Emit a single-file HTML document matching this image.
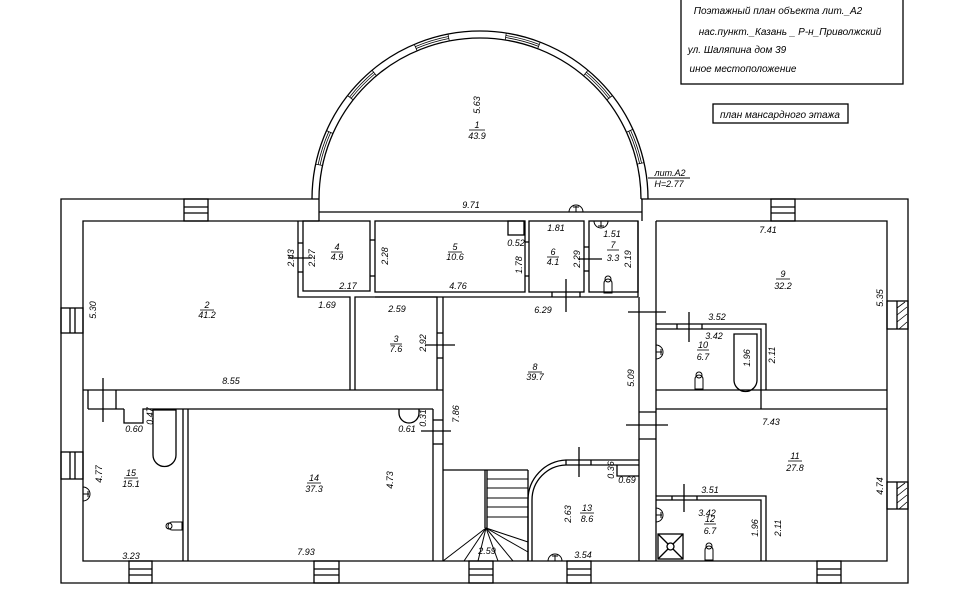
<!DOCTYPE html>
<html><head><meta charset="utf-8"><style>
body{margin:0;background:#fff}
svg{display:block}
text{font-family:"Liberation Sans","DejaVu Sans",sans-serif;font-style:italic;font-size:9px;fill:#000}
.t{font-size:10px}
</style></head><body>
<svg width="971" height="596" viewBox="0 0 971 596" xmlns="http://www.w3.org/2000/svg">
<g fill="none" stroke="#000" stroke-width="1.3">
<rect x="681" y="-2" width="222" height="86"/>
<rect x="713" y="104" width="135" height="19"/>
<path d="M312 199 A168 168 0 0 1 648 199"/>
<path d="M319 199 A161 161 0 0 1 641 199"/>
<line x1="312" y1="199" x2="319" y2="199"/>
<line x1="641" y1="199" x2="648" y2="199"/>
<line x1="319" y1="212" x2="642" y2="212"/>
<line x1="319" y1="199" x2="319" y2="221"/>
<line x1="642" y1="199" x2="642" y2="221"/>
<polyline points="312,199 61,199 61,583 908,583 908,199 648,199"/>
<polyline points="319,221 83,221 83,561 887,561 887,221 656,221"/>
<rect x="184" y="199" width="24" height="22"/><line x1="184" y1="207" x2="208" y2="207"/><line x1="184" y1="213" x2="208" y2="213"/>
<rect x="771" y="199" width="24" height="22"/><line x1="771" y1="207" x2="795" y2="207"/><line x1="771" y1="213" x2="795" y2="213"/>
<rect x="61" y="308" width="22" height="25"/><line x1="70" y1="308" x2="70" y2="333"/><line x1="75" y1="308" x2="75" y2="333"/>
<rect x="61" y="452" width="22" height="27"/><line x1="70" y1="452" x2="70" y2="479"/><line x1="75" y1="452" x2="75" y2="479"/>
<rect x="129" y="561" width="23" height="22"/><line x1="129" y1="569" x2="152" y2="569"/><line x1="129" y1="575" x2="152" y2="575"/>
<rect x="314" y="561" width="25" height="22"/><line x1="314" y1="569" x2="339" y2="569"/><line x1="314" y1="575" x2="339" y2="575"/>
<rect x="469" y="561" width="24" height="22"/><line x1="469" y1="569" x2="493" y2="569"/><line x1="469" y1="575" x2="493" y2="575"/>
<rect x="567" y="561" width="24" height="22"/><line x1="567" y1="569" x2="591" y2="569"/><line x1="567" y1="575" x2="591" y2="575"/>
<rect x="817" y="561" width="24" height="22"/><line x1="817" y1="569" x2="841" y2="569"/><line x1="817" y1="575" x2="841" y2="575"/>
<rect x="887" y="301" width="21" height="28"/><line x1="897" y1="301" x2="897" y2="329"/>
<rect x="887" y="482" width="21" height="27"/><line x1="897" y1="482" x2="897" y2="509"/>
<g stroke-width="0.8"><line x1="897" y1="308" x2="905" y2="302"/><line x1="897" y1="315" x2="907" y2="307"/><line x1="897" y1="322" x2="907" y2="314"/><line x1="899" y1="329" x2="907" y2="322"/>
<line x1="897" y1="489" x2="905" y2="483"/><line x1="897" y1="496" x2="907" y2="488"/><line x1="897" y1="503" x2="907" y2="495"/><line x1="899" y1="509" x2="907" y2="502"/></g>
<!-- arc windows -->
<g stroke-width="0.8">
<g transform="rotate(-162 480 199)"><line x1="640.1" y1="182.2" x2="647.1" y2="181.4"/><line x1="640.1" y1="215.8" x2="647.1" y2="216.6"/><path d="M642.6 181.9 A163.5 163.5 0 0 1 642.6 216.1 M644.6 181.7 A165.5 165.5 0 0 1 644.6 216.3"/></g>
<g transform="rotate(-136 480 199)"><line x1="640.1" y1="182.2" x2="647.1" y2="181.4"/><line x1="640.1" y1="215.8" x2="647.1" y2="216.6"/><path d="M642.6 181.9 A163.5 163.5 0 0 1 642.6 216.1 M644.6 181.7 A165.5 165.5 0 0 1 644.6 216.3"/></g>
<g transform="rotate(-107 480 199)"><line x1="640.1" y1="182.2" x2="647.1" y2="181.4"/><line x1="640.1" y1="215.8" x2="647.1" y2="216.6"/><path d="M642.6 181.9 A163.5 163.5 0 0 1 642.6 216.1 M644.6 181.7 A165.5 165.5 0 0 1 644.6 216.3"/></g>
<g transform="rotate(-75 480 199)"><line x1="640.1" y1="182.2" x2="647.1" y2="181.4"/><line x1="640.1" y1="215.8" x2="647.1" y2="216.6"/><path d="M642.6 181.9 A163.5 163.5 0 0 1 642.6 216.1 M644.6 181.7 A165.5 165.5 0 0 1 644.6 216.3"/></g>
<g transform="rotate(-44 480 199)"><line x1="640.1" y1="182.2" x2="647.1" y2="181.4"/><line x1="640.1" y1="215.8" x2="647.1" y2="216.6"/><path d="M642.6 181.9 A163.5 163.5 0 0 1 642.6 216.1 M644.6 181.7 A165.5 165.5 0 0 1 644.6 216.3"/></g>
<g transform="rotate(-18.5 480 199)"><line x1="640.1" y1="182.2" x2="647.1" y2="181.4"/><line x1="640.1" y1="215.8" x2="647.1" y2="216.6"/><path d="M642.6 181.9 A163.5 163.5 0 0 1 642.6 216.1 M644.6 181.7 A165.5 165.5 0 0 1 644.6 216.3"/></g>
</g>
<line x1="83" y1="390" x2="443" y2="390"/>
<line x1="88" y1="409" x2="124" y2="409"/>
<polyline points="124,409 124,423 143,423 143,409 433,409"/>
<line x1="88" y1="390" x2="88" y2="409"/><line x1="116" y1="390" x2="116" y2="409"/><line x1="103" y1="378" x2="103" y2="422"/>
<polyline points="298,221 298,297 350,297 350,390"/>
<rect x="303" y="221" width="67" height="70"/>
<line x1="298" y1="243" x2="303" y2="243"/><line x1="298" y1="272" x2="303" y2="272"/><line x1="288" y1="258" x2="312" y2="258"/>
<line x1="370" y1="240" x2="375" y2="240"/><line x1="370" y1="276" x2="375" y2="276"/>
<rect x="375" y="221" width="150" height="71"/>
<rect x="508" y="221" width="16" height="14"/>
<rect x="529" y="221" width="55" height="71"/>
<line x1="525" y1="242" x2="529" y2="242"/><line x1="525" y1="276" x2="529" y2="276"/>
<rect x="589" y="221" width="49" height="71"/>
<line x1="584" y1="247" x2="589" y2="247"/><line x1="584" y1="271" x2="589" y2="271"/><line x1="578" y1="259" x2="602" y2="259"/>
<line x1="375" y1="297" x2="443" y2="297"/><line x1="443" y1="297" x2="638" y2="297"/>
<line x1="552" y1="292" x2="552" y2="297"/><line x1="580" y1="292" x2="580" y2="297"/><line x1="566" y1="279" x2="566" y2="312"/>
<polyline points="355,390 355,297 437,297 437,390"/>
<line x1="443" y1="297" x2="443" y2="561"/>
<line x1="437" y1="333" x2="443" y2="333"/><line x1="437" y1="358" x2="443" y2="358"/><line x1="425" y1="345" x2="455" y2="345"/>
<line x1="638" y1="221" x2="638" y2="297"/>
<line x1="639" y1="297" x2="639" y2="561"/>
<line x1="656" y1="221" x2="656" y2="561"/>
<line x1="639" y1="412" x2="656" y2="412"/><line x1="639" y1="439" x2="656" y2="439"/><line x1="626" y1="425" x2="668" y2="425"/>
<line x1="628" y1="312" x2="666" y2="312"/>
<line x1="656" y1="390" x2="887" y2="390"/>
<line x1="656" y1="409" x2="887" y2="409"/>
<line x1="761" y1="390" x2="761" y2="409"/>
<polyline points="656,324 766,324 766,390"/>
<polyline points="656,329 761,329 761,390"/>
<line x1="677" y1="324" x2="677" y2="329"/><line x1="702" y1="324" x2="702" y2="329"/><line x1="689" y1="312" x2="689" y2="342"/>
<path d="M734 334 H757 V380 A11.5 11.5 0 0 1 734 380 Z"/>
<polyline points="656,496 766,496 766,561"/>
<polyline points="656,500 761,500 761,561"/>
<line x1="672" y1="496" x2="672" y2="500"/><line x1="697" y1="496" x2="697" y2="500"/><line x1="684" y1="484" x2="684" y2="512"/>
<rect x="658" y="534" width="25" height="25"/><line x1="658" y1="534" x2="683" y2="559"/><line x1="683" y1="534" x2="658" y2="559"/><circle cx="670.5" cy="546.5" r="3.5" fill="#fff"/>
<line x1="183" y1="409" x2="183" y2="561"/><line x1="188" y1="409" x2="188" y2="561"/>
<line x1="433" y1="409" x2="433" y2="561"/>
<line x1="433" y1="420" x2="443" y2="420"/><line x1="433" y1="444" x2="443" y2="444"/><line x1="421" y1="431" x2="451" y2="431"/>
<path d="M153 410 H176 V455 A11.5 11.5 0 0 1 153 455 Z"/>
<path d="M399 409 V413 A10 10 0 0 0 419 413 V409"/>
<line x1="443" y1="470" x2="528" y2="470"/>
<line x1="485" y1="470" x2="485" y2="528"/><line x1="487" y1="470" x2="487" y2="528"/>
<line x1="528" y1="470" x2="528" y2="561"/>
<g stroke-width="1"><line x1="487" y1="479" x2="528" y2="479"/><line x1="487" y1="488" x2="528" y2="488"/><line x1="487" y1="498" x2="528" y2="498"/><line x1="487" y1="507" x2="528" y2="507"/><line x1="487" y1="517" x2="528" y2="517"/>
<line x1="486" y1="528" x2="443" y2="561"/><line x1="486" y1="528" x2="464" y2="561"/><line x1="486" y1="528" x2="478" y2="561"/><line x1="486" y1="528" x2="498" y2="561"/><line x1="486" y1="528" x2="513" y2="561"/><line x1="486" y1="528" x2="528" y2="552"/><line x1="486" y1="528" x2="528" y2="542"/></g>
<path d="M528 561 V500 A40 40 0 0 1 566 460 H639"/>
<path d="M532 561 V500 A35 35 0 0 1 566 465 H639"/>
<line x1="566" y1="460" x2="566" y2="465"/><line x1="591" y1="460" x2="591" y2="465"/><line x1="579" y1="447" x2="579" y2="477"/>
<polyline points="617,465 617,476 639,476"/>
<g stroke-width="1">
<path d="M612 293 V283 A4 4 0 0 0 604 283 V293 Z"/><circle cx="608" cy="279" r="3"/>
<path d="M703 389 V379 A4 4 0 0 0 695 379 V389 Z"/><circle cx="699" cy="375" r="3"/>
<path d="M713 560 V550 A4 4 0 0 0 705 550 V560 Z"/><circle cx="709" cy="546" r="3"/>
<path d="M182 522 H172 A4 4 0 0 0 172 530 H182 Z"/><circle cx="169" cy="526" r="3"/>
<path d="M569 212 A7 7 0 0 1 583 212 Z"/><line x1="576" y1="206" x2="576" y2="212"/><line x1="573" y1="207" x2="579" y2="207"/>
<path d="M594 221 A7 7 0 0 0 608 221 Z"/><line x1="601" y1="221" x2="601" y2="227"/><line x1="598" y1="226" x2="604" y2="226"/>
<path d="M656 345 A7 7 0 0 1 656 359 Z"/><line x1="656" y1="352" x2="662" y2="352"/><line x1="661" y1="349" x2="661" y2="355"/>
<path d="M656 508 A7 7 0 0 1 656 522 Z"/><line x1="656" y1="515" x2="662" y2="515"/><line x1="661" y1="512" x2="661" y2="518"/>
<path d="M83 487 A7 7 0 0 1 83 501 Z"/><line x1="83" y1="494" x2="89" y2="494"/><line x1="88" y1="491" x2="88" y2="497"/>
<path d="M548 561 A7 7 0 0 1 562 561 Z"/><line x1="555" y1="555" x2="555" y2="561"/><line x1="552" y1="556" x2="558" y2="556"/>
</g>
<line x1="648" y1="178" x2="690" y2="178" stroke-width="1"/>
</g>
<g stroke="#000" stroke-width="0.8">
<line x1="469" y1="130" x2="485" y2="130"/><line x1="200" y1="310" x2="214" y2="310"/><line x1="331" y1="252" x2="343" y2="252"/>
<line x1="448" y1="252" x2="462" y2="252"/><line x1="547" y1="257" x2="559" y2="257"/><line x1="607" y1="250" x2="619" y2="250"/>
<line x1="390" y1="344" x2="402" y2="344"/><line x1="528" y1="372" x2="542" y2="372"/><line x1="776" y1="279" x2="790" y2="279"/>
<line x1="697" y1="350" x2="709" y2="350"/><line x1="788" y1="461" x2="802" y2="461"/><line x1="704" y1="524" x2="716" y2="524"/>
<line x1="580" y1="513" x2="594" y2="513"/><line x1="307" y1="483" x2="321" y2="483"/><line x1="124" y1="478" x2="138" y2="478"/>
</g>
<g text-anchor="middle">
<text class="t" x="778" y="14">Поэтажный план объекта лит._А2</text>
<text class="t" x="790" y="35">нас.пункт._Казань _  Р-н_Приволжский</text>
<text class="t" x="737" y="53">ул. Шаляпина   дом  39</text>
<text class="t" x="743" y="72">иное местоположение</text>
<text class="t" x="780" y="118">план мансардного этажа</text>
<text x="670" y="176">лит.А2</text>
<text x="669" y="187">H=2.77</text>
<text x="471" y="208">9.71</text>
<text transform="translate(480,105) rotate(-90)">5.63</text>
<text x="477" y="128">1</text><text x="477" y="139">43.9</text>
<text x="207" y="308">2</text><text x="207" y="318">41.2</text>
<text transform="translate(96,310) rotate(-90)">5.30</text>
<text x="231" y="384">8.55</text>
<text transform="translate(294,258) rotate(-90)">2.43</text>
<text transform="translate(315,258) rotate(-90)">2.27</text>
<text x="337" y="250">4</text><text x="337" y="260">4.9</text>
<text x="348" y="289">2.17</text><text x="327" y="308">1.69</text>
<text transform="translate(388,256) rotate(-90)">2.28</text>
<text x="455" y="250">5</text><text x="455" y="260">10.6</text>
<text x="458" y="289">4.76</text>
<text transform="translate(522,265) rotate(-90)">1.78</text>
<text x="516" y="246">0.52</text>
<text x="556" y="231">1.81</text>
<text x="553" y="255">6</text><text x="553" y="265">4.1</text>
<text transform="translate(580,259) rotate(-90)">2.29</text>
<text x="612" y="237">1.51</text>
<text x="613" y="248">7</text><text x="613" y="261">3.3</text>
<text transform="translate(631,259) rotate(-90)">2.19</text>
<text x="543" y="313">6.29</text>
<text x="397" y="312">2.59</text>
<text x="396" y="342">3</text><text x="396" y="352">7.6</text>
<text transform="translate(426,343) rotate(-90)">2.92</text>
<text x="535" y="370">8</text><text x="535" y="380">39.7</text>
<text transform="translate(634,378) rotate(-90)">5.09</text>
<text transform="translate(459,414) rotate(-90)">7.86</text>
<text x="768" y="233">7.41</text>
<text x="783" y="277">9</text><text x="783" y="289">32.2</text>
<text transform="translate(883,298) rotate(-90)">5.35</text>
<text x="717" y="320">3.52</text><text x="714" y="339">3.42</text>
<text x="703" y="348">10</text><text x="703" y="360">6.7</text>
<text transform="translate(750,358) rotate(-90)">1.96</text>
<text transform="translate(775,355) rotate(-90)">2.11</text>
<text x="771" y="425">7.43</text>
<text x="795" y="459">11</text><text x="795" y="471">27.8</text>
<text transform="translate(883,486) rotate(-90)">4.74</text>
<text x="710" y="493">3.51</text><text x="707" y="516">3.42</text>
<text x="710" y="522">12</text><text x="710" y="534">6.7</text>
<text transform="translate(758,528) rotate(-90)">1.96</text>
<text transform="translate(781,528) rotate(-90)">2.11</text>
<text x="587" y="511">13</text><text x="587" y="522">8.6</text>
<text transform="translate(571,514) rotate(-90)">2.63</text>
<text x="583" y="558">3.54</text><text x="487" y="554">2.59</text>
<text transform="translate(614,470) rotate(-90)">0.36</text>
<text x="627" y="483">0.69</text>
<text x="314" y="481">14</text><text x="314" y="492">37.3</text>
<text transform="translate(393,480) rotate(-90)">4.73</text>
<text x="306" y="555">7.93</text>
<text x="131" y="476">15</text><text x="131" y="487">15.1</text>
<text transform="translate(102,474) rotate(-90)">4.77</text>
<text x="131" y="559">3.23</text>
<text x="134" y="432">0.60</text>
<text transform="translate(153,416) rotate(-90)">0.47</text>
<text x="407" y="432">0.61</text>
<text transform="translate(426,418) rotate(-90)">0.31</text>
</g>
</svg>
</body></html>
